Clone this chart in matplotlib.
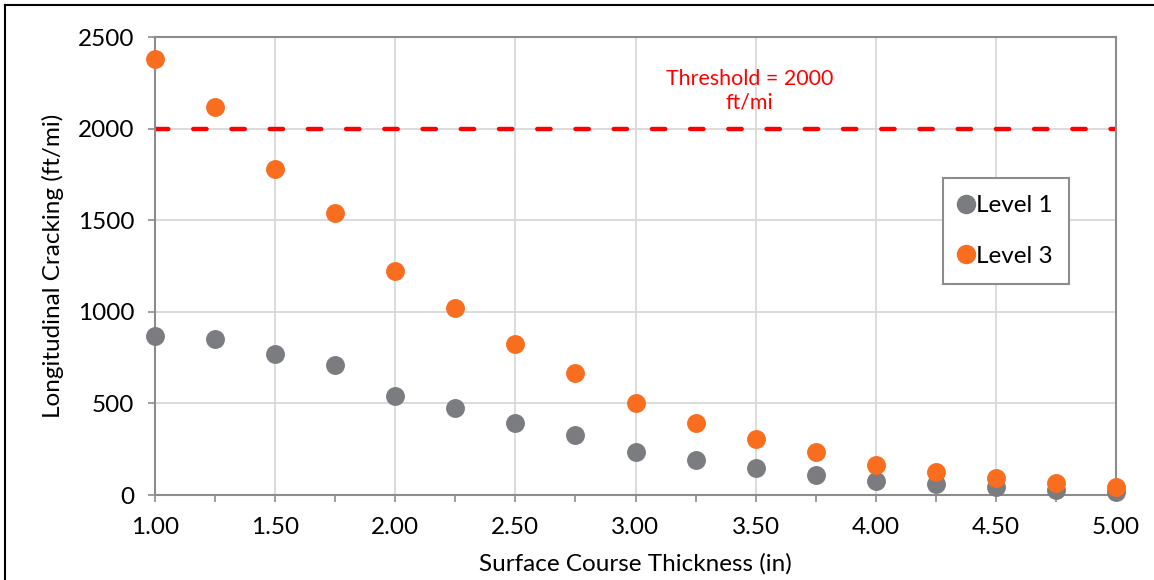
import numpy as np
import matplotlib
matplotlib.use("Agg")
import matplotlib.pyplot as plt
from matplotlib.ticker import MultipleLocator, FormatStrFormatter
from matplotlib.lines import Line2D

plt.rcParams['font.family'] = ['Lato', 'DejaVu Sans']

# surface course thickness (in)
thickness = [1.00, 1.25, 1.50, 1.75, 2.00, 2.25, 2.50, 2.75, 3.00, 3.25,
             3.50, 3.75, 4.00, 4.25, 4.50, 4.75, 5.00]
# longitudinal cracking (ft/mi)
level1 = [870, 850, 770, 710, 541, 476, 392, 326, 237, 189,
          148, 111, 78, 58, 42, 27, 18]
level3 = [2380, 2120, 1780, 1540, 1220, 1020, 823, 667, 501, 392,
          304, 233, 166, 126, 91, 67, 45]
threshold = 2000

grey = '#7B7C80'
orange = '#F96E1E'
axis_grey = '#8C8C8C'

fig = plt.figure(figsize=(11.54, 5.8), dpi=100)
ax = fig.add_axes([155/1154, 85/580, 961/1154, 458/580])

ax.scatter(thickness, level1, s=185, color=grey, label='Level 1', zorder=3, clip_on=False, linewidths=0)
ax.scatter(thickness, level3, s=185, color=orange, label='Level 3', zorder=4, clip_on=False, linewidths=0)

ax.plot([thickness[0], thickness[-1]], [threshold, threshold], color='#FF0000', lw=3.2,
        linestyle=(0, (3.0, 5.6)), dash_capstyle='round', zorder=2)
ax.text(3.475, 2205, 'Threshold = 2000\nft/mi', color='#FF0000', ha='center', va='center',
        fontsize=15.4, linespacing=1.2)

ax.set_xlim(1.0, 5.0)
ax.set_ylim(0, 2500)
ax.xaxis.set_major_locator(MultipleLocator(0.5))
ax.xaxis.set_minor_locator(MultipleLocator(0.25))
ax.xaxis.set_major_formatter(FormatStrFormatter('%.2f'))
ax.yaxis.set_major_locator(MultipleLocator(500))

ax.grid(True, which='major', color='#D9D9D9', lw=1.3, zorder=0)
ax.set_axisbelow(True)
for side in ['left', 'bottom', 'top', 'right']:
    ax.spines[side].set_color(axis_grey)
    ax.spines[side].set_linewidth(1.5)

ax.tick_params(axis='both', which='both', direction='out', color=axis_grey, width=1.2)
ax.tick_params(axis='x', which='both', length=5, pad=11, labelsize=17.5)
ax.tick_params(axis='y', which='major', length=5, pad=10, labelsize=17.5)

ax.set_xlabel('Surface Course Thickness (in)', fontsize=17.5, labelpad=11)
ax.set_ylabel('Longitudinal Cracking (ft/mi)', fontsize=17.5, labelpad=10)

handles = [Line2D([], [], marker='o', ls='', color=grey, markersize=13, label='Level 1'),
           Line2D([], [], marker='o', ls='', color=orange, markersize=13, label='Level 3')]
leg = ax.legend(handles=handles, loc='upper left', bbox_to_anchor=(0.82, 0.692),
                borderaxespad=0, fontsize=17.5, labelspacing=1.23, handletextpad=0.2,
                handlelength=0.45, borderpad=0.7, fancybox=False, framealpha=1)
leg.get_frame().set_edgecolor(axis_grey)
leg.get_frame().set_linewidth(1.5)

# outer border
fig.add_artist(Line2D([5/1154, 5/1154], [0, 575/580], color='black', lw=1.5, transform=fig.transFigure))
fig.add_artist(Line2D([5/1154, 1], [575/580, 575/580], color='black', lw=1.5, transform=fig.transFigure))

fig.savefig('out.png', dpi=100)
